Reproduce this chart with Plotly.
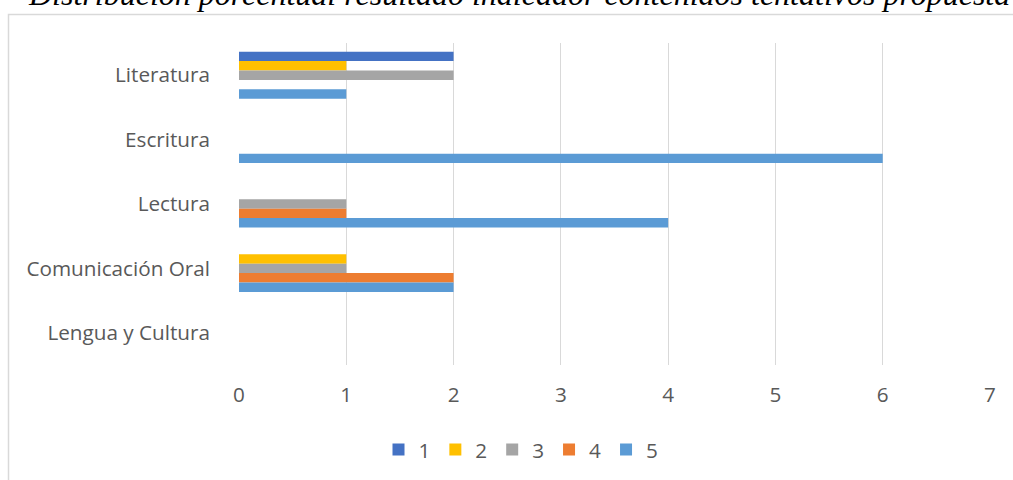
import plotly.graph_objects as go

categories = ["Literatura", "Escritura", "Lectura", "Comunicación Oral", "Lengua y Cultura"]
series_names = ["1", "2", "3", "4", "5"]
s1 = [2, 0, 0, 0, 0]
s2 = [1, 0, 0, 1, 0]
s3 = [2, 0, 1, 1, 0]
s4 = [0, 0, 1, 2, 0]
s5 = [1, 6, 4, 2, 0]
colors = ["#4472C4", "#FFC000", "#A5A5A5", "#ED7D31", "#5B9BD5"]
x_ticks = [0, 1, 2, 3, 4, 5, 6, 7]
title_text = "Distribución porcentual resultado indicador contenidos tentativos propuesta"

W, H = 1013, 480
L, R, T, B = 239, 23, 43, 114
pw, ph = W - L - R, H - T - B

def px_x(p):
    return (p - L) / pw

def px_y(p):
    return (H - B - p) / ph

fig = go.Figure()
for name, vals, col in zip(series_names, [s1, s2, s3, s4, s5], colors):
    fig.add_trace(go.Bar(y=categories, x=vals, name=name, orientation="h",
                         marker=dict(color=col, line=dict(width=0))))

font_family = "Open Sans, sans-serif"
fig.update_layout(
    width=W, height=H,
    margin=dict(l=L, r=R, t=T, b=B),
    paper_bgcolor="white", plot_bgcolor="white",
    barmode="group", bargap=0.27, bargroupgap=0,
    font=dict(family=font_family, size=20, color="#595959"),
    xaxis=dict(range=[0, 7], tickvals=x_ticks, showgrid=True, gridcolor="#d9d9d9",
               gridwidth=1, zeroline=False, showline=False,
               ticks="", ticklabelstandoff=15,
               tickfont=dict(size=20.7, color="#595959")),
    yaxis=dict(categoryorder="array", categoryarray=categories, autorange="reversed",
               showgrid=False, zeroline=False, showline=False, ticks="",
               ticklabelstandoff=28, tickfont=dict(size=20.7, color="#595959")),
    legend=dict(orientation="h", x=px_x(521), xanchor="center", y=px_y(449.5), yanchor="middle",
                font=dict(size=20.7, color="#595959"), traceorder="normal"),
    showlegend=True,
)

fig.add_shape(type="rect", xref="paper", yref="paper",
              x0=px_x(8.5), x1=px_x(1030), y0=px_y(500), y1=px_y(14.5),
              line=dict(color="#d9d9d9", width=1.5), fillcolor="rgba(0,0,0,0)", layer="below")

fig.add_annotation(text=title_text, xref="paper", yref="paper",
                   x=px_x(26), xanchor="left", y=px_y(14), yanchor="bottom",
                   showarrow=False,
                   font=dict(family="Liberation Serif, Times New Roman, serif", size=32, color="black",
                             style="italic"))

fig.write_html("out.html", config={"displayModeBar": False},
               post_script="document.body.style.margin='0';document.body.style.overflow='hidden';")
